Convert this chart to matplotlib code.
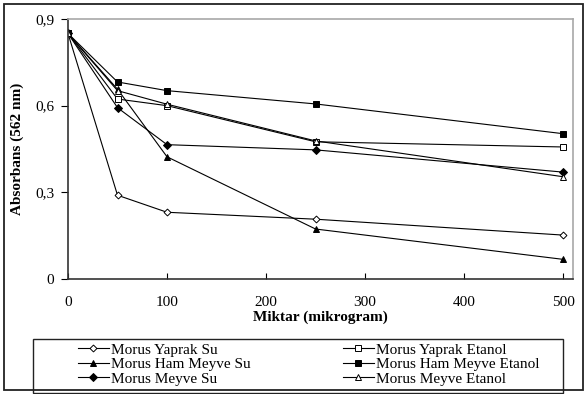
import matplotlib.pyplot as plt
from matplotlib.patches import Rectangle
from matplotlib.ticker import FuncFormatter

plt.rcParams['font.family'] = ['Liberation Serif', 'DejaVu Serif']

# Miktar (mikrogram)
miktar = [0, 50, 100, 250, 500]

# Absorbans values for every extract
yaprak_su = [0.85, 0.29, 0.231, 0.207, 0.152]
ham_meyve_su = [0.85, 0.657, 0.423, 0.173, 0.068]
meyve_su = [0.85, 0.593, 0.465, 0.447, 0.370]
yaprak_etanol = [0.85, 0.623, 0.600, 0.475, 0.457]
ham_meyve_etanol = [0.85, 0.682, 0.652, 0.606, 0.503]
meyve_etanol = [0.85, 0.652, 0.605, 0.478, 0.354]

names = ['Morus Yaprak Su', 'Morus Ham Meyve Su', 'Morus Meyve Su',
         'Morus Yaprak Etanol', 'Morus Ham Meyve Etanol', 'Morus Meyve Etanol']

xticks = [0, 100, 200, 300, 400, 500]
yticks = [0, 0.3, 0.6, 0.9]

series = [
    (yaprak_su, 'D', 'white', 3.5),
    (ham_meyve_su, '^', 'black', 5),
    (meyve_su, 'D', 'black', 4),
    (yaprak_etanol, 's', 'white', 4.5),
    (ham_meyve_etanol, 's', 'black', 4.5),
    (meyve_etanol, '^', 'white', 5),
]

fig = plt.figure(figsize=(5.85, 3.94), dpi=100)
ax = fig.add_axes([68 / 585, 1 - 279 / 394, 505 / 585, 260 / 394])

handles = []
for vals, mk, fc, ms in series:
    h, = ax.plot(miktar, vals, color='black', linewidth=0.8, marker=mk,
                 markersize=ms, markerfacecolor=fc, markeredgecolor='black',
                 markeredgewidth=0.7)
    handles.append(h)

ax.set_xlim(0, 510)
ax.set_ylim(0, 0.9)
ax.set_xticks(xticks)
ax.set_yticks(yticks)
ax.yaxis.set_major_formatter(FuncFormatter(lambda v, p: '0' if v == 0 else f'{v:.1f}'.replace('.', ',')))

ax.tick_params(axis='x', direction='in', length=4, pad=12, labelsize=11, width=0.8)
ax.tick_params(axis='y', direction='out', length=5, pad=5, labelsize=11, width=0.8)

for side in ['left', 'bottom']:
    ax.spines[side].set_color('#333333')
    ax.spines[side].set_linewidth(1.2)
for side in ['top', 'right']:
    ax.spines[side].set_color('#a8a8a8')
    ax.spines[side].set_linewidth(1.2)

ax.set_xlabel('Miktar (mikrogram)', fontsize=11, fontweight='bold', labelpad=1)
ax.set_ylabel('Absorbans (562 nm)', fontsize=11, fontweight='bold', labelpad=8)

# Outer frame of the figure
fig.patches.append(Rectangle((4 / 585, 1 - 390 / 394), 579 / 585, 386 / 394,
                             transform=fig.transFigure, fill=False,
                             edgecolor='#222222', linewidth=1.3))
# Legend box
fig.patches.append(Rectangle((33 / 585, 1 - 393 / 394), 530 / 585, 54 / 394,
                             transform=fig.transFigure, fill=False,
                             edgecolor='#222222', linewidth=1.0))

leg_kw = dict(frameon=False, fontsize=11, handlelength=2.0, handletextpad=0.15,
              labelspacing=0.05, borderpad=0, borderaxespad=0, loc='upper left')
leg1 = fig.legend(handles[:3], names[:3],
                  bbox_to_anchor=(78 / 585, 1 - 343 / 394), **leg_kw)
leg2 = fig.legend(handles[3:], names[3:],
                  bbox_to_anchor=(343 / 585, 1 - 343 / 394), **leg_kw)

fig.savefig('out.png', dpi=100)
